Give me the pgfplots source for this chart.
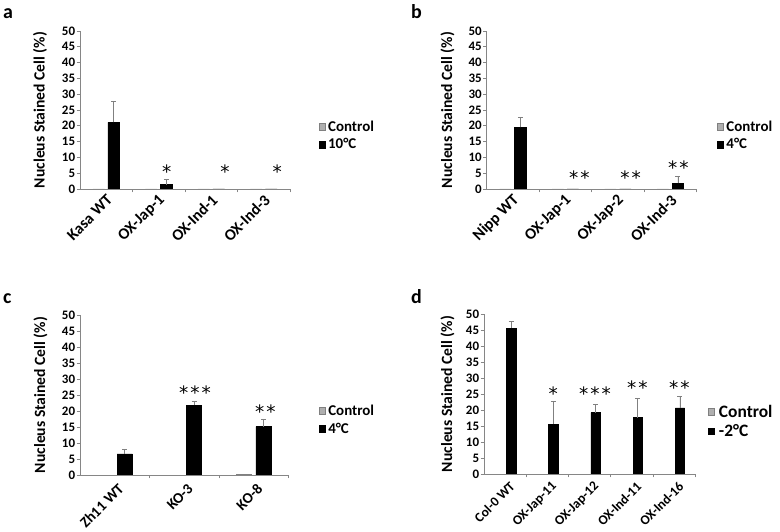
\documentclass[border=0pt]{standalone}
\usepackage{fontspec}
\setmainfont{Carlito}
\newfontfamily\starfont{DejaVu Sans}
\usepackage{pgfplots}
\pgfplotsset{compat=1.18}
\definecolor{axgray}{RGB}{134,134,134}
\definecolor{errgray}{RGB}{128,128,128}
\definecolor{ctrlgray}{RGB}{175,175,175}
\tikzset{
  star/.style={font=\starfont\fontsize{18.5}{18.5}\selectfont, inner sep=0pt, anchor=base, yshift=-10bp},
  plabel/.style={font=\bfseries\fontsize{20}{20}\selectfont, inner sep=0pt, anchor=base west},
}
\pgfplotsset{
  panel/.style={
    scale only axis, ybar, ymin=0, ymax=50, ytick={0,5,...,50},
    axis x line*=bottom, axis y line*=left,
    axis line style={axgray, line width=0.7bp},
    tick align=outside, major tick length=3.5bp, minor tick length=3.5bp,
    every tick/.style={axgray, line width=0.6bp},
    major x tick style={draw=none},
    /pgf/number format/assume math mode=true,
    yticklabel style={font=\bfseries\fontsize{13}{13}\selectfont, inner sep=1.2bp},
    xticklabel style={font=\bfseries\fontsize{16}{16}\selectfont, rotate=45, anchor=east, inner sep=1bp, xshift=0bp, yshift=-6bp},
    ylabel={Nucleus Stained Cell (\%)},
    ylabel style={font=\bfseries\fontsize{15.7}{15.7}\selectfont, rotate=0, anchor=center},
    bar width=0.22,
    legend image code/.code={\draw[##1] (0bp,-3.3bp) rectangle (6.6bp,3.3bp);},
    legend style={draw=none, fill=none, inner sep=0pt, anchor=north west,
      font=\bfseries\fontsize{15}{15}\selectfont, row sep=4bp,
      nodes={inner xsep=2.5bp, inner ysep=1bp},
      legend cell align=left},
  },
  ctrl/.style={fill=ctrlgray, draw=gray, line width=0.5bp, bar shift=-0.143},
  cold/.style={fill=black, draw=black, line width=0.5bp, bar shift=0.143,
    error bars/.cd, y dir=plus, y explicit,
    error bar style={errgray, line width=0.8bp},
    error mark options={rotate=90, errgray, mark size=2.5bp, line width=0.8bp}},
}
\begin{document}
\begin{tikzpicture}
\path[use as bounding box] (0,0) rectangle (780bp,532bp);
% panel labels
\node[plabel] at (3bp,513bp) {a};
\node[plabel] at (411bp,513bp) {b};
\node[plabel] at (3bp,228bp) {c};
\node[plabel] at (411bp,228bp) {d};

% ---------- a ----------
\begin{axis}[panel, at={(80bp,343bp)}, anchor=south west, width=210bp, height=158bp,
  xmin=-0.5, xmax=3.5, xtick={0,1,2,3}, minor xtick={0.5,1.5,2.5,3.5},
  xticklabels={Kasa WT, OX-Jap-1, OX-Ind-1, OX-Ind-3},
  ylabel style={at={(axis description cs:-0.19,0.5)}},
  legend style={at={(1.135,0.44)}}]
\addplot[ctrl] coordinates {(0,0) (1,0) (2,0) (3,0)};
\addplot[cold] table[x=x, y=y, y error=e] {
x y e
0 21.1 6.7
1 1.4 1.7
2 0 0
3 0 0
};
\legend{Control, 10°C}
\node[star] at (axis cs:1.151,6.55) {*};
\node[star] at (axis cs:2.262,6.55) {*};
\node[star] at (axis cs:3.258,6.55) {*};
\end{axis}

% ---------- b ----------
\begin{axis}[panel, at={(486.7bp,343bp)}, anchor=south west, width=210bp, height=158bp,
  xmin=-0.5, xmax=3.5, xtick={0,1,2,3}, minor xtick={0.5,1.5,2.5,3.5},
  xticklabels={Nipp WT, OX-Jap-1, OX-Jap-2, OX-Ind-3},
  ylabel style={at={(axis description cs:-0.187,0.5)}},
  legend style={at={(1.095,0.44)}}]
\addplot[ctrl] coordinates {(0,0) (1,0) (2,0) (3,0)};
\addplot[cold] table[x=x, y=y, y error=e] {
x y e
0 19.5 3.2
1 0 0
2 0 0
3 1.8 2.1
};
\legend{Control, 4°C}
\node[star] at (axis cs:1.264,4.65) {*\hspace{2bp}*};
\node[star] at (axis cs:2.243,4.65) {*\hspace{2bp}*};
\node[star] at (axis cs:3.150,7.6) {*\hspace{2bp}*};
\end{axis}

% ---------- c ----------
\begin{axis}[panel, at={(80bp,57bp)}, anchor=south west, width=208.3bp, height=160bp,
  xmin=-0.5, xmax=2.5, xtick={0,1,2}, minor xtick={0.5,1.5,2.5},
  xticklabels={Zh11 WT, KO-3, KO-8},
  xticklabel style={font=\bfseries\fontsize{15}{15}\selectfont, yshift=-4bp},
  ylabel style={at={(axis description cs:-0.19,0.5)}},
  legend style={at={(1.145,0.445)}}]
\addplot[ctrl] coordinates {(0,0) (1,0) (2,0.25)};
\addplot[cold] table[x=x, y=y, y error=e] {
x y e
0 6.6 1.4
1 21.8 1.3
2 15.1 2.4
};
\legend{Control, 4°C}
\node[star] at (axis cs:1.155,26.6) {*\hspace{2bp}*\hspace{2bp}*};
\node[star] at (axis cs:2.170,20.8) {*\hspace{2bp}*};
\end{axis}

% ---------- d ----------
\begin{axis}[panel, at={(484bp,58bp)}, anchor=south west, width=211bp, height=160bp,
  xmin=-0.5, xmax=4.5, xtick={0,1,2,3,4}, minor xtick={0.5,1.5,2.5,3.5,4.5},
  xticklabels={Col-0 WT, OX-Jap-11, OX-Jap-12, OX-Ind-11, OX-Ind-16},
  xticklabel style={font=\bfseries\fontsize{13.5}{13.5}\selectfont, xshift=1.5bp, yshift=-4bp},
  ylabel style={at={(axis description cs:-0.173,0.5)}},
  legend style={at={(1.06,0.44)}, font=\bfseries\fontsize{17.5}{17.5}\selectfont, nodes={inner xsep=4bp}}]
\addplot[ctrl] coordinates {(0,0) (1,0) (2,0) (3,0) (4,0)};
\addplot[cold] table[x=x, y=y, y error=e] {
x y e
0 45.6 2.2
1 15.6 7.0
2 19.2 2.6
3 17.6 5.9
4 20.7 3.6
};
\legend{Control, -2°C}
\node[star] at (axis cs:1.142,26.25) {*};
\node[star] at (axis cs:2.130,26.25) {*\hspace{2bp}*\hspace{2bp}*};
\node[star] at (axis cs:3.133,28.0) {*\hspace{2bp}*};
\node[star] at (axis cs:4.128,28.0) {*\hspace{2bp}*};
\end{axis}
\end{tikzpicture}
\end{document}
